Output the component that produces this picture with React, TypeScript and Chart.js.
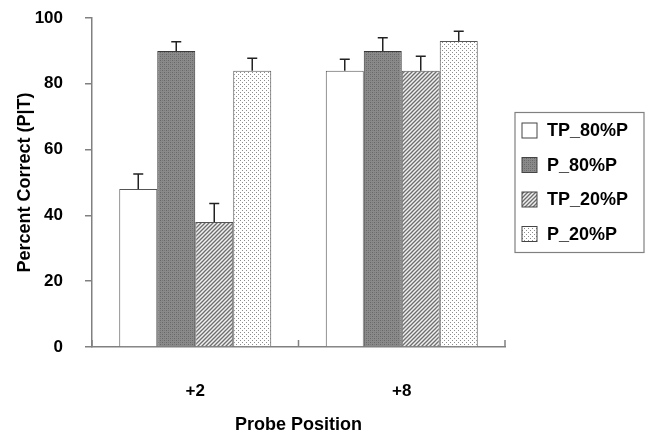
import React, { useEffect, useRef } from "react";
import { Chart, registerables } from "chart.js";

Chart.register(...registerables);

const categories = ["+2", "+8"];
const seriesLabels = ["TP_80%P", "P_80%P", "TP_20%P", "P_20%P"];
const tp80 = [48, 84];
const p80 = [90, 90];
const tp20 = [38, 84];
const p20 = [84, 93];
const tp80Err = [4.6, 3.5];
const p80Err = [2.8, 4];
const tp20Err = [5.6, 4.4];
const p20Err = [3.8, 3];
const yTicks = [0, 20, 40, 60, 80, 100];

const FONT = "'Liberation Sans', Arial, Helvetica, sans-serif";

function makePattern(kind: string): CanvasPattern | string {
  const c = document.createElement("canvas");
  const s = 4;
  c.width = s;
  c.height = s;
  const g = c.getContext("2d")!;
  if (kind === "white") return "#ffffff";
  if (kind === "dark") {
    g.fillStyle = "#8a8a8a";
    g.fillRect(0, 0, s, s);
    g.fillStyle = "#666666";
    g.fillRect(0, 0, 1, 1);
    g.fillRect(2, 2, 1, 1);
    g.fillStyle = "#777777";
    g.fillRect(2, 0, 1, 1);
    g.fillRect(0, 2, 1, 1);
  } else if (kind === "hatch") {
    g.fillStyle = "#f0f0f0";
    g.fillRect(0, 0, s, s);
    g.strokeStyle = "#6e6e6e";
    g.lineWidth = 1.3;
    g.beginPath();
    g.moveTo(-1, s + 1);
    g.lineTo(s + 1, -1);
    g.moveTo(-1, 1);
    g.lineTo(1, -1);
    g.moveTo(s - 1, s + 1);
    g.lineTo(s + 1, s - 1);
    g.stroke();
  } else if (kind === "dots") {
    g.fillStyle = "#ffffff";
    g.fillRect(0, 0, s, s);
    g.fillStyle = "#8c8c8c";
    g.fillRect(0, 0, 1, 1);
    g.fillRect(2, 2, 1, 1);
  }
  return g.createPattern(c, "repeat")!;
}

export default function App() {
  const ref = useRef<HTMLCanvasElement | null>(null);

  useEffect(() => {
    document.body.style.margin = "0";
    const canvas = ref.current!;
    const fills = [makePattern("white"), makePattern("dark"), makePattern("hatch"), makePattern("dots")];
    const values = [tp80, p80, tp20, p20];
    const errs = [tp80Err, p80Err, tp20Err, p20Err];
    const borders = ["#555555", "#3a3a3a", "#555555", "#555555"];

    const errorBars = {
      id: "errorBars",
      afterDatasetsDraw(chart: any) {
        const ctx = chart.ctx;
        const yScale = chart.scales.y;
        ctx.save();
        ctx.strokeStyle = "#222222";
        ctx.lineWidth = 1.5;
        chart.data.datasets.forEach((ds: any, di: number) => {
          const meta = chart.getDatasetMeta(di);
          meta.data.forEach((bar: any, i: number) => {
            const v = ds.data[i];
            const e = errs[di][i];
            const yTop = yScale.getPixelForValue(v + e);
            const yBar = yScale.getPixelForValue(v);
            ctx.beginPath();
            ctx.moveTo(bar.x, yBar);
            ctx.lineTo(bar.x, yTop);
            ctx.moveTo(bar.x - 5, yTop);
            ctx.lineTo(bar.x + 5, yTop);
            ctx.stroke();
          });
        });
        ctx.restore();
      },
    };

    const xTicksInward = {
      id: "xTicksInward",
      afterDraw(chart: any) {
        const ctx = chart.ctx;
        const xs = chart.scales.x;
        const n = categories.length;
        const half = (xs.getPixelForValue(1) - xs.getPixelForValue(0)) / 2;
        ctx.save();
        ctx.strokeStyle = "#808080";
        ctx.lineWidth = 1.5;
        for (let i = 0; i <= n; i++) {
          const x = xs.getPixelForValue(0) - half + i * half * 2;
          ctx.beginPath();
          ctx.moveTo(x, xs.top);
          ctx.lineTo(x, xs.top - 7);
          ctx.stroke();
        }
        ctx.restore();
      },
    };

    const boxLegend = {
      id: "boxLegend",
      afterDraw(chart: any) {
        const ctx = chart.ctx;
        const area = chart.chartArea;
        const left = area.right + 10;
        const width = 129;
        const rowH = 34.5;
        const height = rowH * seriesLabels.length + 2;
        const top = (area.top + area.bottom) / 2 - height / 2;
        ctx.save();
        ctx.fillStyle = "#ffffff";
        ctx.fillRect(left, top, width, height);
        ctx.strokeStyle = "#808080";
        ctx.lineWidth = 1.2;
        ctx.strokeRect(left, top, width, height);
        ctx.font = `bold 18px ${FONT}`;
        ctx.textBaseline = "middle";
        chart.data.datasets.forEach((ds: any, i: number) => {
          const cy = top + 18 + i * rowH;
          ctx.fillStyle = ds.backgroundColor;
          ctx.fillRect(left + 7, cy - 7.5, 15, 15);
          ctx.strokeStyle = "#444444";
          ctx.lineWidth = 1;
          ctx.strokeRect(left + 7, cy - 7.5, 15, 15);
          ctx.fillStyle = "#000000";
          ctx.fillText(ds.label, left + 32, cy + 1);
        });
        ctx.restore();
      },
    };

    const chart = new Chart(canvas, {
      type: "bar",
      data: {
        labels: categories,
        datasets: seriesLabels.map((label, i) => ({
          label,
          data: values[i],
          backgroundColor: fills[i] as any,
          borderColor: borders[i],
          borderWidth: 1,
          categoryPercentage: 0.736,
          barPercentage: 1,
        })),
      },
      options: {
        animation: false,
        responsive: false,
        devicePixelRatio: 1,
        layout: { padding: { top: 18, right: 140, left: 0, bottom: 0 } },
        plugins: {
          legend: { display: false },
          tooltip: { enabled: false },
        },
        scales: {
          x: {
            grid: { display: false },
            border: { display: true, color: "#808080", width: 1.5 },
            ticks: {
              color: "#000000",
              font: { family: FONT, size: 17, weight: "bold" },
              padding: 26,
            },
            title: {
              display: true,
              text: "Probe Position",
              color: "#000000",
              font: { family: FONT, size: 18, weight: "bold" },
              padding: { top: 0, bottom: 0 },
            },
            afterFit(scale: any) {
              scale.height = 89;
            },
          },
          y: {
            min: 0,
            max: 100,
            afterBuildTicks(scale: any) {
              scale.ticks = yTicks.map((v) => ({ value: v }));
            },
            grid: {
              drawOnChartArea: false,
              drawTicks: true,
              tickLength: 7,
              color: "#808080",
              lineWidth: 1.5,
            },
            border: { display: true, color: "#808080", width: 1.5 },
            ticks: {
              color: "#000000",
              font: { family: FONT, size: 17, weight: "bold" },
              padding: 22,
            },
            title: {
              display: true,
              text: "Percent Correct (P|T)",
              color: "#000000",
              font: { family: FONT, size: 18, weight: "bold" },
              padding: { top: 14, bottom: 0 },
            },
            afterFit(scale: any) {
              scale.width = 92;
              scale.paddingTop = 0;
              scale.paddingBottom = 0;
            },
          },
        },
      },
      plugins: [errorBars, xTicksInward, boxLegend],
    });
    return () => chart.destroy();
  }, []);

  return (
    <div style={{ position: "absolute", left: 0, top: 0, width: 645, height: 436, background: "#fff" }}>
      <canvas ref={ref} width={645} height={436} />
    </div>
  );
}
